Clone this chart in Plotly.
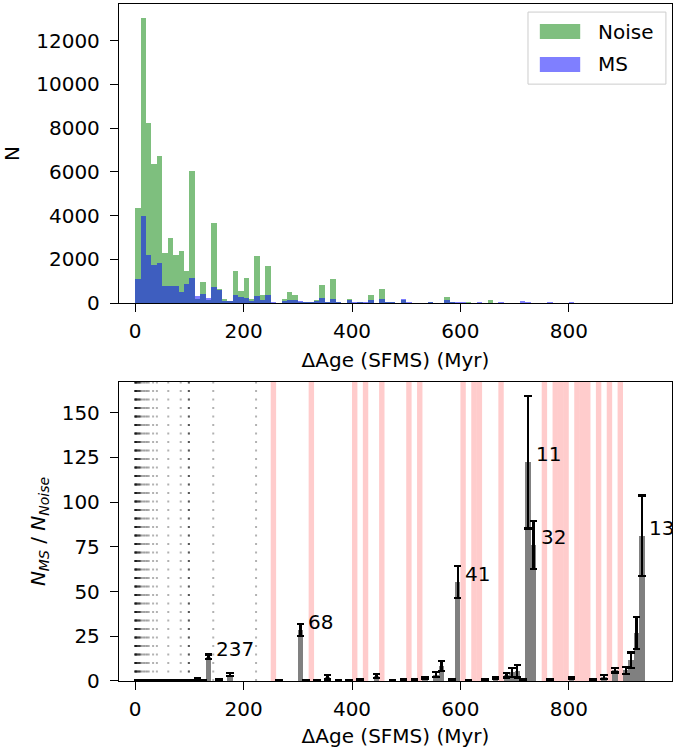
import plotly.graph_objects as go

# ---------------- data ----------------
bin_width = 10
noise_counts = [4340, 13030, 8240, 6365, 6730, 2300, 2980, 2210, 2390, 1480,
                6045, 200, 975, 150, 3670, 650, 200, 80, 1480, 560,
                1150, 200, 2160, 380, 1700, 0, 0, 200, 520, 380,
                60, 20, 20, 150, 840, 30, 1110, 40, 0, 200,
                0, 10, 0, 380, 0, 640, 30, 20, 0, 150,
                0, 0, 0, 0, 20, 0, 0, 290, 20, 0,
                0, 30, 0, 0, 0, 150, 0, 0, 0, 0]
ms_counts = [1110, 3990, 2210, 1750, 1840, 760, 760, 790, 520, 880,
             1160, 300, 425, 240, 745, 610, 105, 100, 380, 290,
             240, 100, 330, 150, 380, 20, 0, 100, 150, 150,
             100, 30, 40, 80, 240, 30, 200, 50, 0, 150,
             10, 30, 10, 150, 0, 200, 50, 40, 0, 200,
             10, 0, 0, 0, 40, 0, 0, 150, 40, 20,
             10, 0, 0, 10, 0, 0, 0, 10, 0, 0,
             0, 80, 20, 0, 0, 0, 20, 0, 0, 0, 30]

ratio_ages = [5, 15, 25, 35, 45, 55, 65, 75, 85, 95, 105, 115, 125, 135, 155, 175,
              265, 305, 315, 335, 355, 375, 395, 415, 445, 475, 495, 515, 535, 555,
              565, 585, 595, 615, 645, 665, 685, 695, 705, 715, 725, 735, 765, 805,
              845, 865, 885, 905, 915, 925, 935]
ratio_vals = [0.26, 0.31, 0.27, 0.27, 0.27, 0.33, 0.26, 0.36, 0.22, 0.6, 0.19, 1.3, 0.45, 13.6, 0.6, 3.6,
              0.5, 28.5, 0.4, 0.5, 2.0, 0.4, 0.5, 1.0, 2.7, 0.5, 0.6, 0.6, 1.5, 3.6,
              8.4, 0.6, 55.4, 0.5, 0.8, 1.5, 3.3, 4.9, 5.5, 0.6, 122.3, 76.1, 0.8, 1.5,
              0.8, 2.2, 6.1, 5.9, 11.5, 26.7, 81.2]
ratio_errs = [0.05, 0.05, 0.05, 0.05, 0.05, 0.06, 0.05, 0.07, 0.05, 0.1, 0.05, 0.5, 0.1, 1.2, 0.2, 0.8,
              0.2, 3.4, 0.15, 0.2, 1.2, 0.15, 0.2, 0.3, 1.2, 0.2, 0.2, 0.2, 0.5, 1.5,
              2.8, 0.2, 9.0, 0.2, 0.3, 0.5, 1.3, 2.5, 3.5, 0.2, 37.0, 13.5, 0.3, 0.4,
              0.3, 1.1, 1.3, 2.0, 4.4, 9.0, 22.5]

label_ages = [135, 305, 595, 725, 735, 935]
label_texts = ["237", "68", "41", "11", "32", "13"]

noise_free_bins = [250, 320, 400, 420, 450, 500, 520, 600, 620, 630, 670,
                   750, 770, 780, 790, 810, 820, 830, 850, 870, 890]

dotted_ages = [0, 0, 0, 1, 1, 2, 2, 3, 4, 5, 6, 7, 8, 9, 10,
               13, 16, 19, 22, 25, 33, 40, 61, 84, 99, 99, 99, 144, 223]

x_ticks = [0, 200, 400, 600, 800]
top_y_ticks = [0, 2000, 4000, 6000, 8000, 10000, 12000]
bot_y_ticks = [0, 25, 50, 75, 100, 125, 150]

# ---------------- figure ----------------
FONT = "DejaVu Sans"
hist_centers = [i * bin_width + bin_width / 2 for i in range(max(len(noise_counts), len(ms_counts)))]

fig = go.Figure()
fig.add_trace(go.Bar(x=hist_centers[:len(noise_counts)], y=noise_counts, width=bin_width,
                     marker=dict(color="green", line=dict(width=0)), opacity=0.5,
                     name="Noise", xaxis="x", yaxis="y", showlegend=False))
fig.add_trace(go.Bar(x=hist_centers[:len(ms_counts)], y=ms_counts, width=bin_width,
                     marker=dict(color="blue", line=dict(width=0)), opacity=0.5,
                     name="MS", xaxis="x", yaxis="y", showlegend=False))
fig.add_trace(go.Bar(x=ratio_ages, y=ratio_vals, width=bin_width,
                     marker=dict(color="gray", line=dict(width=0)),
                     error_y=dict(type="data", array=ratio_errs, visible=True,
                                  color="black", thickness=2.3, width=3.8),
                     xaxis="x2", yaxis="y2", showlegend=False))

shapes = []
for b in noise_free_bins:
    shapes.append(dict(type="rect", xref="x2", yref="y2 domain", x0=b, x1=b + bin_width,
                       y0=0, y1=1, fillcolor="rgba(255,0,0,0.2)", line=dict(width=0),
                       layer="below"))
for a in dotted_ages:
    shapes.append(dict(type="line", xref="x2", yref="y2 domain", x0=a, x1=a, y0=0, y1=1,
                       line=dict(color="rgba(0,0,0,0.3)", width=2, dash="2px,6.5px"),
                       layer="below"))

# manual legend (top panel, domain coords)
shapes.append(dict(type="rect", xref="x domain", yref="y domain", x0=0.7396, x1=0.989,
                   y0=0.732, y1=0.973, fillcolor="rgba(255,255,255,0.8)",
                   line=dict(color="#cccccc", width=1)))
shapes.append(dict(type="rect", xref="x domain", yref="y domain", x0=0.761, x1=0.834,
                   y0=0.883, y1=0.933, fillcolor="rgba(0,128,0,0.5)", line=dict(width=0)))
shapes.append(dict(type="rect", xref="x domain", yref="y domain", x0=0.761, x1=0.834,
                   y0=0.773, y1=0.823, fillcolor="rgba(0,0,255,0.5)", line=dict(width=0)))

annotations = [
    dict(xref="x domain", yref="y domain", x=0.862, y=0.908, text="Noise", showarrow=False,
         xanchor="left", yanchor="middle", font=dict(size=20, family=FONT, color="black")),
    dict(xref="x domain", yref="y domain", x=0.862, y=0.798, text="MS", showarrow=False,
         xanchor="left", yanchor="middle", font=dict(size=20, family=FONT, color="black")),
]
lookup = dict(zip(ratio_ages, ratio_vals))
for a, t in zip(label_ages, label_texts):
    annotations.append(dict(xref="x2", yref="y2", x=a + bin_width, y=lookup[a], text=t,
                            showarrow=False, xanchor="left", yanchor="bottom", yshift=-6,
                            font=dict(size=20, family=FONT, color="black")))

axis_common = dict(showline=True, mirror=True, linecolor="black", linewidth=1.3,
                   ticks="outside", ticklen=8, tickwidth=1.3, tickcolor="black",
                   showgrid=False, zeroline=False,
                   tickfont=dict(size=20, family=FONT, color="black"))
xr = [-29.9, 990.4]
fig.update_layout(
    width=673, height=748,
    margin=dict(l=119, r=1, t=4, b=67),
    paper_bgcolor="white", plot_bgcolor="white",
    font=dict(family=FONT, size=20, color="black"),
    barmode="overlay", bargap=0,
    shapes=shapes, annotations=annotations,
    xaxis=dict(domain=[0, 1], anchor="y", range=xr, tickvals=x_ticks, ticklabelstandoff=2,
               title=dict(text="ΔAge (SFMS) (Myr)", standoff=10, font=dict(size=20)),
               **axis_common),
    yaxis=dict(domain=[0.5583, 1], anchor="x", range=[0, 13680], tickvals=top_y_ticks,
               tickformat="d", ticklabelstandoff=6,
               title=dict(text="N", standoff=12, font=dict(size=20)),
               **axis_common),
    xaxis2=dict(domain=[0, 1], anchor="y2", range=xr, tickvals=x_ticks, ticklabelstandoff=2,
                title=dict(text="ΔAge (SFMS) (Myr)", standoff=10, font=dict(size=20)),
                **axis_common),
    yaxis2=dict(domain=[0, 0.4417], anchor="x2", range=[0, 167.2], tickvals=bot_y_ticks,
                ticklabelstandoff=6,
                title=dict(text="<i>N</i><sub><i>MS</i></sub> / <i>N</i><sub><i>Noise</i></sub>",
                           standoff=10, font=dict(size=20)),
                **axis_common),
)

fig.write_html("out.html")
